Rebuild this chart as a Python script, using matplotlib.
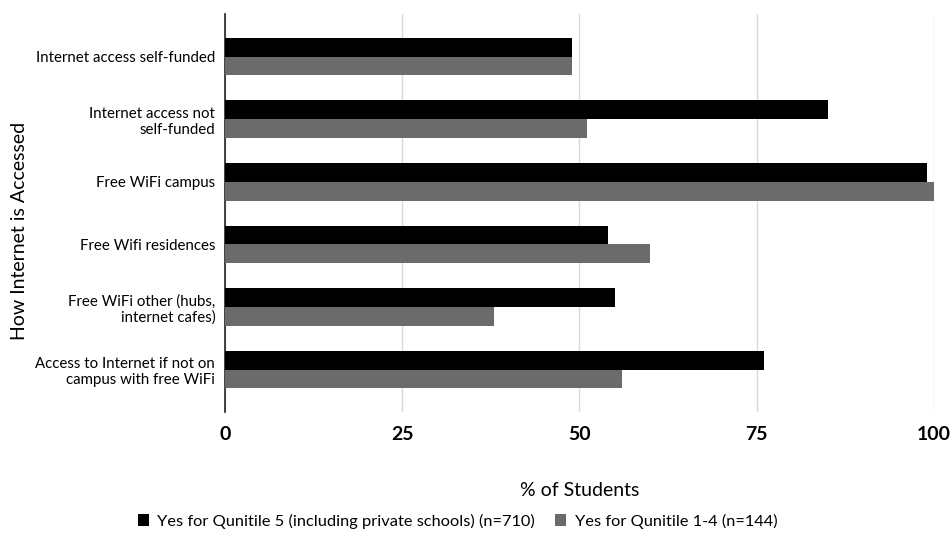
import matplotlib
matplotlib.use("Agg")
import matplotlib.pyplot as plt
import numpy as np

plt.rcParams['font.family'] = ['Lato', 'DejaVu Sans']

categories = [
    "Internet access self-funded",
    "Internet access not\nself-funded",
    "Free WiFi campus",
    "Free Wifi residences",
    "Free WiFi other (hubs,\ninternet cafes)",
    "Access to Internet if not on\ncampus with free WiFi",
]
quintile5 = [49, 85, 99, 54, 55, 76]
quintile1_4 = [49, 51, 100, 60, 38, 56]
series_labels = [
    "Yes for Qunitile 5 (including private schools) (n=710)",
    "Yes for Qunitile 1-4 (n=144)",
]
xticks = [0, 25, 50, 75, 100]

fig = plt.figure(figsize=(9.53, 5.36), dpi=100)
ax = fig.add_axes([0.236, 0.231, 0.744, 0.743])

y = np.arange(len(categories))
h = 0.3
ax.barh(y - h / 2, quintile5, height=h, color="#000000", label=series_labels[0], zorder=3)
ax.barh(y + h / 2, quintile1_4, height=h, color="#6b6b6b", label=series_labels[1], zorder=3)

ax.set_ylim(len(categories) - 1 + 0.68, -0.68)
ax.set_xlim(0, 100)
ax.set_yticks(y)
ax.set_yticklabels(categories, fontsize=10.8)
ax.set_xticks(xticks)
ax.set_xticklabels([str(t) for t in xticks], fontsize=14, fontweight="bold")
ax.tick_params(axis="both", length=0)
ax.tick_params(axis="x", pad=10)
ax.tick_params(axis="y", pad=7)

ax.grid(axis="x", color="#d9d9d9", linewidth=1, zorder=0)
for s in ["top", "right", "bottom"]:
    ax.spines[s].set_visible(False)
ax.spines["left"].set_color("#222222")
ax.spines["left"].set_linewidth(1.2)

ax.set_xlabel("% of Students", fontsize=14, labelpad=28)
ax.set_ylabel("How Internet is Accessed", fontsize=14)
ax.yaxis.set_label_coords(-0.278, 0.455)

fig.legend(loc="center", bbox_to_anchor=(0.48, 0.028), ncol=2, frameon=False,
           fontsize=11.8, handlelength=0.7, handleheight=0.7, handletextpad=0.5,
           columnspacing=1.2)

fig.savefig("out.png", dpi=100)
